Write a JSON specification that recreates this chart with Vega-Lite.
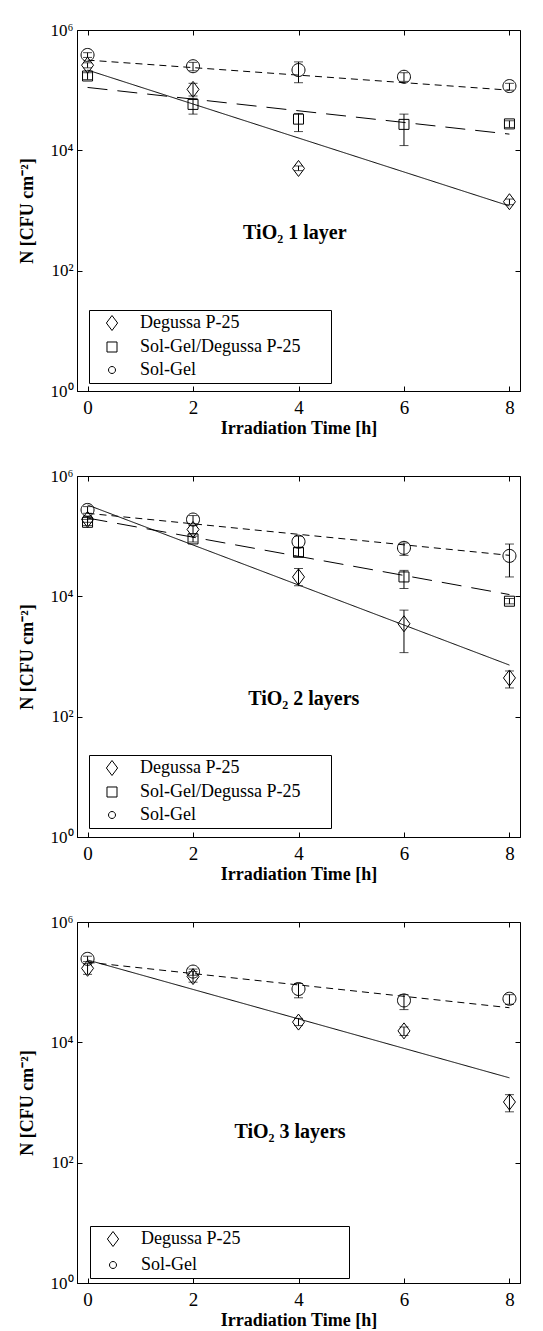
{
  "$schema": "https://vega.github.io/schema/vega-lite/v6.json",
  "background": "white",
  "padding": {"top": 20, "left": 17, "right": 5, "bottom": 5},
  "spacing": 28,
  "datasets": {
    "pts": [
      {"panel": 1, "series": "Degussa P-25", "t": 0, "n": 260000, "lo": 235000, "hi": 285000},
      {"panel": 1, "series": "Degussa P-25", "t": 2, "n": 103000, "lo": 80000, "hi": 130000},
      {"panel": 1, "series": "Degussa P-25", "t": 4, "n": 5000, "lo": 4600, "hi": 5500},
      {"panel": 1, "series": "Degussa P-25", "t": 8, "n": 1400, "lo": 1250, "hi": 1550},
      {"panel": 1, "series": "Sol-Gel/Degussa P-25", "t": 0, "n": 172000, "lo": 150000, "hi": 195000},
      {"panel": 1, "series": "Sol-Gel/Degussa P-25", "t": 2, "n": 58000, "lo": 40000, "hi": 73000},
      {"panel": 1, "series": "Sol-Gel/Degussa P-25", "t": 4, "n": 33000, "lo": 20500, "hi": 41000},
      {"panel": 1, "series": "Sol-Gel/Degussa P-25", "t": 6, "n": 27000, "lo": 12000, "hi": 40000},
      {"panel": 1, "series": "Sol-Gel/Degussa P-25", "t": 8, "n": 27500, "lo": 24000, "hi": 31000},
      {"panel": 1, "series": "Sol-Gel", "t": 0, "n": 385000, "lo": 350000, "hi": 420000},
      {"panel": 1, "series": "Sol-Gel", "t": 2, "n": 250000, "lo": 210000, "hi": 290000},
      {"panel": 1, "series": "Sol-Gel", "t": 4, "n": 216000, "lo": 133000, "hi": 295000},
      {"panel": 1, "series": "Sol-Gel", "t": 6, "n": 167000, "lo": 140000, "hi": 195000},
      {"panel": 1, "series": "Sol-Gel", "t": 8, "n": 117000, "lo": 100000, "hi": 130000},
      {"panel": 2, "series": "Degussa P-25", "t": 0, "n": 190000, "lo": 170000, "hi": 215000},
      {"panel": 2, "series": "Degussa P-25", "t": 2, "n": 129000, "lo": 110000, "hi": 150000},
      {"panel": 2, "series": "Degussa P-25", "t": 4, "n": 21000, "lo": 15000, "hi": 29000},
      {"panel": 2, "series": "Degussa P-25", "t": 6, "n": 3500, "lo": 1160, "hi": 5900},
      {"panel": 2, "series": "Degussa P-25", "t": 8, "n": 440, "lo": 300, "hi": 575},
      {"panel": 2, "series": "Sol-Gel/Degussa P-25", "t": 0, "n": 170000, "lo": 150000, "hi": 190000},
      {"panel": 2, "series": "Sol-Gel/Degussa P-25", "t": 2, "n": 90000, "lo": 80000, "hi": 100000},
      {"panel": 2, "series": "Sol-Gel/Degussa P-25", "t": 4, "n": 54000, "lo": 46000, "hi": 64000},
      {"panel": 2, "series": "Sol-Gel/Degussa P-25", "t": 6, "n": 21000, "lo": 13500, "hi": 27000},
      {"panel": 2, "series": "Sol-Gel/Degussa P-25", "t": 8, "n": 8300, "lo": 7500, "hi": 9200},
      {"panel": 2, "series": "Sol-Gel", "t": 0, "n": 273000, "lo": 240000, "hi": 310000},
      {"panel": 2, "series": "Sol-Gel", "t": 2, "n": 189000, "lo": 160000, "hi": 220000},
      {"panel": 2, "series": "Sol-Gel", "t": 4, "n": 81000, "lo": 65000, "hi": 100000},
      {"panel": 2, "series": "Sol-Gel", "t": 6, "n": 64000, "lo": 48000, "hi": 77000},
      {"panel": 2, "series": "Sol-Gel", "t": 8, "n": 47000, "lo": 21000, "hi": 74000},
      {"panel": 3, "series": "Degussa P-25", "t": 0, "n": 170000, "lo": 135000, "hi": 205000},
      {"panel": 3, "series": "Degussa P-25", "t": 2, "n": 124000, "lo": 100000, "hi": 150000},
      {"panel": 3, "series": "Degussa P-25", "t": 4, "n": 21700, "lo": 19000, "hi": 25000},
      {"panel": 3, "series": "Degussa P-25", "t": 6, "n": 15500, "lo": 13000, "hi": 18000},
      {"panel": 3, "series": "Degussa P-25", "t": 8, "n": 1020, "lo": 700, "hi": 1350},
      {"panel": 3, "series": "Sol-Gel", "t": 0, "n": 244000, "lo": 220000, "hi": 270000},
      {"panel": 3, "series": "Sol-Gel", "t": 2, "n": 150000, "lo": 130000, "hi": 165000},
      {"panel": 3, "series": "Sol-Gel", "t": 4, "n": 77000, "lo": 55000, "hi": 95000},
      {"panel": 3, "series": "Sol-Gel", "t": 6, "n": 49700, "lo": 35000, "hi": 62000},
      {"panel": 3, "series": "Sol-Gel", "t": 8, "n": 53000, "lo": 43000, "hi": 62000}
    ],
    "fits": [
      {"panel": 1, "series": "Degussa P-25", "t": 0, "n": 216000},
      {"panel": 1, "series": "Degussa P-25", "t": 8, "n": 1190},
      {"panel": 1, "series": "Sol-Gel/Degussa P-25", "t": 0, "n": 111000},
      {"panel": 1, "series": "Sol-Gel/Degussa P-25", "t": 8, "n": 18600},
      {"panel": 1, "series": "Sol-Gel", "t": 0, "n": 316000},
      {"panel": 1, "series": "Sol-Gel", "t": 8, "n": 100000},
      {"panel": 2, "series": "Degussa P-25", "t": 0, "n": 330000},
      {"panel": 2, "series": "Degussa P-25", "t": 8, "n": 720},
      {"panel": 2, "series": "Sol-Gel/Degussa P-25", "t": 0, "n": 200000},
      {"panel": 2, "series": "Sol-Gel/Degussa P-25", "t": 8, "n": 10700},
      {"panel": 2, "series": "Sol-Gel", "t": 0, "n": 240000},
      {"panel": 2, "series": "Sol-Gel", "t": 8, "n": 48000},
      {"panel": 3, "series": "Degussa P-25", "t": 0, "n": 234000},
      {"panel": 3, "series": "Degussa P-25", "t": 8, "n": 2570},
      {"panel": 3, "series": "Sol-Gel", "t": 0, "n": 215000},
      {"panel": 3, "series": "Sol-Gel", "t": 8, "n": 37600}
    ],
    "titles": [
      {"panel": 1, "t": 3.93, "n": 423, "label": "TiO₂ 1 layer"},
      {"panel": 2, "t": 4.1, "n": 200, "label": "TiO₂ 2 layers"},
      {"panel": 3, "t": 3.84, "n": 327, "label": "TiO₂ 3 layers"}
    ]
  },
  "vconcat": [
    {
      "width": 443, "height": 361,
      "layer": [
        {"data": {"name": "fits"}, "transform": [{"filter": "datum.panel == 1"}],
         "mark": {"type": "line", "color": "black", "strokeWidth": 1},
         "encoding": {
           "x": {"field": "t", "type": "quantitative", "scale": {"domain": [-0.2, 8.2], "nice": false, "zero": false}, "axis": {"orient": "top", "labels": false, "title": null, "values": [0, 2, 4, 6, 8], "tickSize": -5, "domain": false}},
           "y": {"field": "n", "type": "quantitative", "scale": {"type": "log", "domain": [1, 1000000], "nice": false}, "axis": {"orient": "right", "labels": false, "title": null, "values": [1, 100, 10000, 1000000], "tickSize": -5, "domain": false}},
           "strokeDash": {"field": "series", "type": "nominal", "scale": {"domain": ["Sol-Gel/Degussa P-25", "Sol-Gel", "Degussa P-25"], "range": [[20, 10], [7, 5], [1, 0]]}, "legend": null}
         }},
        {"data": {"name": "pts"}, "transform": [{"filter": "datum.panel == 1"}],
         "mark": {"type": "rule", "color": "black", "strokeWidth": 1},
         "encoding": {
           "x": {"field": "t", "type": "quantitative", "axis": null},
           "y": {"field": "lo", "type": "quantitative", "axis": null},
           "y2": {"field": "hi"}
         }},
        {"data": {"name": "pts"}, "transform": [{"filter": "datum.panel == 1"}],
         "mark": {"type": "tick", "orient": "horizontal", "color": "black", "size": 9, "thickness": 1},
         "encoding": {
           "x": {"field": "t", "type": "quantitative", "axis": null},
           "y": {"field": "lo", "type": "quantitative", "axis": null}
         }},
        {"data": {"name": "pts"}, "transform": [{"filter": "datum.panel == 1"}],
         "mark": {"type": "tick", "orient": "horizontal", "color": "black", "size": 9, "thickness": 1},
         "encoding": {
           "x": {"field": "t", "type": "quantitative", "axis": null},
           "y": {"field": "hi", "type": "quantitative", "axis": null}
         }},
        {"data": {"name": "pts"}, "transform": [{"filter": "datum.panel == 1"}],
         "mark": {"type": "point", "filled": false, "color": "black", "strokeWidth": 1, "opacity": 1},
         "encoding": {
           "x": {"field": "t", "type": "quantitative", "axis": {"orient": "bottom", "values": [0, 2, 4, 6, 8], "tickSize": -5, "labelPadding": 12, "title": "Irradiation Time [h]", "titlePadding": 2}},
           "y": {"field": "n", "type": "quantitative", "axis": {"orient": "left", "values": [1, 100, 10000, 1000000], "tickSize": -5, "labelPadding": 9, "title": "N [CFU cm⁻²]", "titlePadding": 14, "labelExpr": "datum.value == 1 ? '10⁰' : datum.value == 100 ? '10²' : datum.value == 10000 ? '10⁴' : '10⁶'"}},
           "shape": {"field": "series", "type": "nominal", "scale": {"domain": ["Degussa P-25", "Sol-Gel/Degussa P-25", "Sol-Gel"], "range": ["M0,-1L0.75,0L0,1L-0.75,0Z", "M-0.667,-0.667L0.667,-0.667L0.667,0.667L-0.667,0.667Z", "M0.467,0A0.467,0.467 0 1,1 -0.467,0A0.467,0.467 0 1,1 0.467,0Z"]},
             "legend": {"orient": "none", "legendX": 12, "legendY": 280, "title": null, "strokeColor": "black", "fillColor": "white", "padding": 4, "rowPadding": 5, "symbolOffset": 10, "labelOffset": 19, "labelLimit": 400, "labelFontSize": 18, "symbolSize": 225, "symbolStrokeColor": "black", "symbolStrokeWidth": 1, "symbolFillColor": "transparent", "labelExpr": "datum.label + '⠀⠀'"}},
           "size": {"field": "series", "type": "nominal", "scale": {"type": "ordinal", "domain": ["Sol-Gel", "Degussa P-25", "Sol-Gel/Degussa P-25"], "range": [775, 256, 225]}, "legend": null}
         }},
        {"data": {"name": "titles"}, "transform": [{"filter": "datum.panel == 1"}],
         "mark": {"type": "text", "font": "Liberation Serif", "fontWeight": "bold", "fontSize": 20, "color": "black"},
         "encoding": {
           "x": {"field": "t", "type": "quantitative", "axis": null},
           "y": {"field": "n", "type": "quantitative", "axis": null},
           "text": {"field": "label"}
         }}
      ],
      "resolve": {"axis": {"x": "independent", "y": "independent"}}
    },
    {
      "width": 443, "height": 361,
      "layer": [
        {"data": {"name": "fits"}, "transform": [{"filter": "datum.panel == 2"}],
         "mark": {"type": "line", "color": "black", "strokeWidth": 1},
         "encoding": {
           "x": {"field": "t", "type": "quantitative", "scale": {"domain": [-0.2, 8.2], "nice": false, "zero": false}, "axis": {"orient": "top", "labels": false, "title": null, "values": [0, 2, 4, 6, 8], "tickSize": -5, "domain": false}},
           "y": {"field": "n", "type": "quantitative", "scale": {"type": "log", "domain": [1, 1000000], "nice": false}, "axis": {"orient": "right", "labels": false, "title": null, "values": [1, 100, 10000, 1000000], "tickSize": -5, "domain": false}},
           "strokeDash": {"field": "series", "type": "nominal", "scale": {"domain": ["Sol-Gel/Degussa P-25", "Sol-Gel", "Degussa P-25"], "range": [[20, 10], [7, 5], [1, 0]]}, "legend": null}
         }},
        {"data": {"name": "pts"}, "transform": [{"filter": "datum.panel == 2"}],
         "mark": {"type": "rule", "color": "black", "strokeWidth": 1},
         "encoding": {
           "x": {"field": "t", "type": "quantitative", "axis": null},
           "y": {"field": "lo", "type": "quantitative", "axis": null},
           "y2": {"field": "hi"}
         }},
        {"data": {"name": "pts"}, "transform": [{"filter": "datum.panel == 2"}],
         "mark": {"type": "tick", "orient": "horizontal", "color": "black", "size": 9, "thickness": 1},
         "encoding": {
           "x": {"field": "t", "type": "quantitative", "axis": null},
           "y": {"field": "lo", "type": "quantitative", "axis": null}
         }},
        {"data": {"name": "pts"}, "transform": [{"filter": "datum.panel == 2"}],
         "mark": {"type": "tick", "orient": "horizontal", "color": "black", "size": 9, "thickness": 1},
         "encoding": {
           "x": {"field": "t", "type": "quantitative", "axis": null},
           "y": {"field": "hi", "type": "quantitative", "axis": null}
         }},
        {"data": {"name": "pts"}, "transform": [{"filter": "datum.panel == 2"}],
         "mark": {"type": "point", "filled": false, "color": "black", "strokeWidth": 1, "opacity": 1},
         "encoding": {
           "x": {"field": "t", "type": "quantitative", "axis": {"orient": "bottom", "values": [0, 2, 4, 6, 8], "tickSize": -5, "labelPadding": 12, "title": "Irradiation Time [h]", "titlePadding": 2}},
           "y": {"field": "n", "type": "quantitative", "axis": {"orient": "left", "values": [1, 100, 10000, 1000000], "tickSize": -5, "labelPadding": 9, "title": "N [CFU cm⁻²]", "titlePadding": 14, "labelExpr": "datum.value == 1 ? '10⁰' : datum.value == 100 ? '10²' : datum.value == 10000 ? '10⁴' : '10⁶'"}},
           "shape": {"field": "series", "type": "nominal", "scale": {"domain": ["Degussa P-25", "Sol-Gel/Degussa P-25", "Sol-Gel"], "range": ["M0,-1L0.75,0L0,1L-0.75,0Z", "M-0.667,-0.667L0.667,-0.667L0.667,0.667L-0.667,0.667Z", "M0.467,0A0.467,0.467 0 1,1 -0.467,0A0.467,0.467 0 1,1 0.467,0Z"]},
             "legend": {"orient": "none", "legendX": 12, "legendY": 279, "title": null, "strokeColor": "black", "fillColor": "white", "padding": 4, "rowPadding": 5, "symbolOffset": 10, "labelOffset": 19, "labelLimit": 400, "labelFontSize": 18, "symbolSize": 225, "symbolStrokeColor": "black", "symbolStrokeWidth": 1, "symbolFillColor": "transparent", "labelExpr": "datum.label + '⠀⠀'"}},
           "size": {"field": "series", "type": "nominal", "scale": {"type": "ordinal", "domain": ["Sol-Gel", "Degussa P-25", "Sol-Gel/Degussa P-25"], "range": [775, 256, 225]}, "legend": null}
         }},
        {"data": {"name": "titles"}, "transform": [{"filter": "datum.panel == 2"}],
         "mark": {"type": "text", "font": "Liberation Serif", "fontWeight": "bold", "fontSize": 20, "color": "black"},
         "encoding": {
           "x": {"field": "t", "type": "quantitative", "axis": null},
           "y": {"field": "n", "type": "quantitative", "axis": null},
           "text": {"field": "label"}
         }}
      ],
      "resolve": {"axis": {"x": "independent", "y": "independent"}}
    },
    {
      "width": 443, "height": 361,
      "layer": [
        {"data": {"name": "fits"}, "transform": [{"filter": "datum.panel == 3"}],
         "mark": {"type": "line", "color": "black", "strokeWidth": 1},
         "encoding": {
           "x": {"field": "t", "type": "quantitative", "scale": {"domain": [-0.2, 8.2], "nice": false, "zero": false}, "axis": {"orient": "top", "labels": false, "title": null, "values": [0, 2, 4, 6, 8], "tickSize": -5, "domain": false}},
           "y": {"field": "n", "type": "quantitative", "scale": {"type": "log", "domain": [1, 1000000], "nice": false}, "axis": {"orient": "right", "labels": false, "title": null, "values": [1, 100, 10000, 1000000], "tickSize": -5, "domain": false}},
           "strokeDash": {"field": "series", "type": "nominal", "scale": {"domain": ["Sol-Gel", "Degussa P-25"], "range": [[7, 5], [1, 0]]}, "legend": null}
         }},
        {"data": {"name": "pts"}, "transform": [{"filter": "datum.panel == 3"}],
         "mark": {"type": "rule", "color": "black", "strokeWidth": 1},
         "encoding": {
           "x": {"field": "t", "type": "quantitative", "axis": null},
           "y": {"field": "lo", "type": "quantitative", "axis": null},
           "y2": {"field": "hi"}
         }},
        {"data": {"name": "pts"}, "transform": [{"filter": "datum.panel == 3"}],
         "mark": {"type": "tick", "orient": "horizontal", "color": "black", "size": 9, "thickness": 1},
         "encoding": {
           "x": {"field": "t", "type": "quantitative", "axis": null},
           "y": {"field": "lo", "type": "quantitative", "axis": null}
         }},
        {"data": {"name": "pts"}, "transform": [{"filter": "datum.panel == 3"}],
         "mark": {"type": "tick", "orient": "horizontal", "color": "black", "size": 9, "thickness": 1},
         "encoding": {
           "x": {"field": "t", "type": "quantitative", "axis": null},
           "y": {"field": "hi", "type": "quantitative", "axis": null}
         }},
        {"data": {"name": "pts"}, "transform": [{"filter": "datum.panel == 3"}],
         "mark": {"type": "point", "filled": false, "color": "black", "strokeWidth": 1, "opacity": 1},
         "encoding": {
           "x": {"field": "t", "type": "quantitative", "axis": {"orient": "bottom", "values": [0, 2, 4, 6, 8], "tickSize": -5, "labelPadding": 12, "title": "Irradiation Time [h]", "titlePadding": 2}},
           "y": {"field": "n", "type": "quantitative", "axis": {"orient": "left", "values": [1, 100, 10000, 1000000], "tickSize": -5, "labelPadding": 9, "title": "N [CFU cm⁻²]", "titlePadding": 14, "labelExpr": "datum.value == 1 ? '10⁰' : datum.value == 100 ? '10²' : datum.value == 10000 ? '10⁴' : '10⁶'"}},
           "shape": {"field": "series", "type": "nominal", "scale": {"domain": ["Degussa P-25", "Sol-Gel"], "range": ["M0,-1L0.75,0L0,1L-0.75,0Z", "M0.467,0A0.467,0.467 0 1,1 -0.467,0A0.467,0.467 0 1,1 0.467,0Z"]},
             "legend": {"orient": "none", "legendX": 13, "legendY": 304, "title": null, "strokeColor": "black", "fillColor": "white", "padding": 4, "rowPadding": 7, "symbolOffset": 10, "labelOffset": 19, "labelLimit": 400, "labelFontSize": 18, "symbolSize": 225, "symbolStrokeColor": "black", "symbolStrokeWidth": 1, "symbolFillColor": "transparent", "labelExpr": "datum.label + '⠀⠀⠀⠀⠀⠀⠀⠀'"}},
           "size": {"field": "series", "type": "nominal", "scale": {"type": "ordinal", "domain": ["Sol-Gel", "Degussa P-25"], "range": [775, 256]}, "legend": null}
         }},
        {"data": {"name": "titles"}, "transform": [{"filter": "datum.panel == 3"}],
         "mark": {"type": "text", "font": "Liberation Serif", "fontWeight": "bold", "fontSize": 20, "color": "black"},
         "encoding": {
           "x": {"field": "t", "type": "quantitative", "axis": null},
           "y": {"field": "n", "type": "quantitative", "axis": null},
           "text": {"field": "label"}
         }}
      ],
      "resolve": {"axis": {"x": "independent", "y": "independent"}}
    }
  ],
  "resolve": {"scale": {"shape": "independent", "size": "independent", "strokeDash": "independent"}, "legend": {"shape": "independent"}},
  "config": {
    "font": "Liberation Serif",
    "view": {"stroke": "black", "strokeWidth": 1},
    "axis": {"grid": false, "domainColor": "black", "tickColor": "black", "labelColor": "black", "titleColor": "black", "labelFont": "Liberation Serif", "titleFont": "Liberation Serif", "labelFontSize": 19, "titleFontSize": 18, "titleFontWeight": "bold", "domainWidth": 1, "tickWidth": 1},
    "axisY": {"labelFontSize": 17},
    "legend": {"labelFont": "Liberation Serif", "labelColor": "black"}
  }
}
